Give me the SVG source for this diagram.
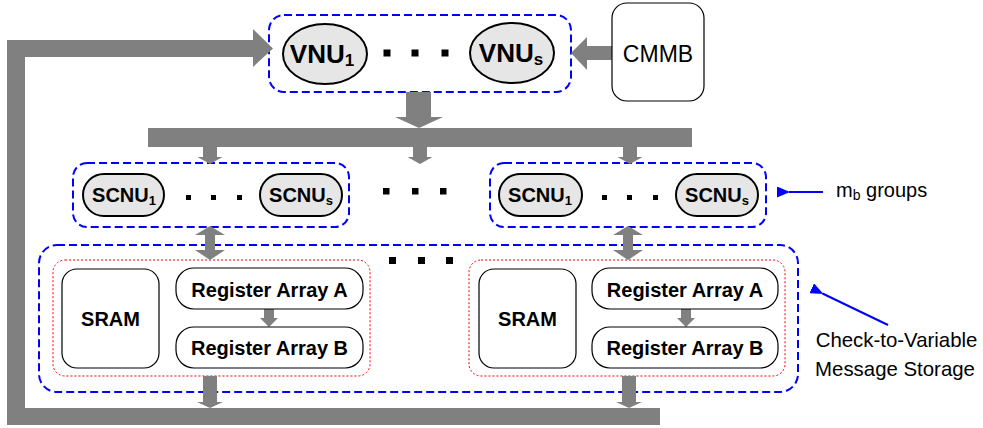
<svg xmlns="http://www.w3.org/2000/svg" width="983" height="428" viewBox="0 0 983 428">
  <defs>
    <style>
      .flow { fill: #808080; stroke: none; }
      .grp { fill: none; stroke: #0000ff; stroke-width: 2; stroke-dasharray: 8 4; }
      .tile { fill: none; stroke: #ff0000; stroke-width: 1; stroke-dasharray: 2 2; }
      .box { fill: #ffffff; stroke: #000000; stroke-width: 1.2; }
      .unit { fill: #e6e6e6; stroke: #000000; stroke-width: 2; }
      .lbl { font-family: "Liberation Sans", Arial, sans-serif; fill: #000000; text-anchor: middle; }
      .b { font-weight: bold; }
      .note { font-family: "Liberation Sans", Arial, sans-serif; fill: #000000; font-size: 20px; }
      .note2 { font-family: "Liberation Sans", Arial, sans-serif; fill: #000000; font-size: 20.4px; text-anchor: middle; }
      .ptr { stroke: #0000ff; stroke-width: 2; fill: none; marker-end: url(#blueHead); }
      .dot { fill: #000000; }
    </style>
    <marker id="blueHead" markerWidth="13" markerHeight="11" refX="1" refY="5.5" orient="auto" markerUnits="userSpaceOnUse">
      <path d="M13,0 L0,5.5 L13,11 Z" fill="#0000ff"/>
    </marker>
  </defs>

  <rect width="983" height="428" fill="#ffffff"/>

  <!-- grouping frames -->
  <g id="vnu-group">
    <rect class="grp" x="269" y="15" width="302" height="77" rx="15"/>
  </g>
  <g id="scnu-group-1">
    <rect class="grp" x="73" y="163" width="276" height="64" rx="14"/>
  </g>
  <g id="scnu-group-mb">
    <rect class="grp" x="490" y="163" width="276" height="64" rx="14"/>
  </g>
  <g id="c2v-storage">
    <rect class="grp" x="39" y="245" width="759" height="147" rx="18"/>
  </g>
  <g id="storage-tile-1">
    <rect class="tile" x="53" y="260" width="317" height="116" rx="12"/>
  </g>
  <g id="storage-tile-mb">
    <rect class="tile" x="469" y="260" width="316" height="116" rx="12"/>
  </g>

  <!-- connectors -->
  <g id="connectors">
    <!-- feedback loop from storage back to the VNUs -->
    <path class="flow" d="M7,425 L660,425 L660,408 L25,408 L25,57 L253,57 L253,67 L273,48.5 L253,29 L253,40 L7,40 Z"/>
    <!-- CMMB to VNUs -->
    <path class="flow" d="M612,46 L587,46 L587,37 L571,53 L587,70 L587,60 L612,60 Z"/>
    <!-- VNUs to distribution bus -->
    <path class="flow" d="M406,92 L431,92 L431,117 L443,117 L419,128 L395,117 L406,117 Z"/>
    <rect class="flow" x="148" y="128" width="544" height="19"/>
    <!-- bus taps -->
    <path class="flow" d="M203,147 L217,147 L217,157 L222.5,157 L210,164 L197.5,157 L203,157 Z"/>
    <path class="flow" d="M413,147 L427,147 L427,157 L432.5,157 L420,164 L407.5,157 L413,157 Z"/>
    <path class="flow" d="M623,147 L637,147 L637,157 L642.5,157 L630,164 L617.5,157 L623,157 Z"/>
    <!-- SCNU <-> storage -->
    <path class="flow" d="M210,226 L225,235 L215,235 L215,250 L225,250 L210,260 L195,250 L205,250 L205,235 L195,235 Z"/>
    <path class="flow" d="M628,226 L643,235 L633,235 L633,250 L643,250 L628,260 L613,250 L623,250 L623,235 L613,235 Z"/>
    <!-- storage to return bus -->
    <path class="flow" d="M203,376 L217,376 L217,402 L223,402 L210,408 L197,402 L203,402 Z"/>
    <path class="flow" d="M622,376 L636,376 L636,402 L642,402 L629,408 L616,402 L622,402 Z"/>
    <!-- register A to register B -->
    <path class="flow" d="M264,309 L274,309 L274,318 L278,318 L269,327 L260,318 L264,318 Z"/>
    <path class="flow" d="M681,309 L691,309 L691,318 L695,318 L686,327 L677,318 L681,318 Z"/>
    <!-- annotation pointers -->
    <line class="ptr" x1="823" y1="192" x2="789" y2="192"/>
    <line class="ptr" x1="888" y1="325" x2="822.5" y2="293.5"/>
  </g>

  <!-- variable node units -->
  <g id="vnu-1">
    <ellipse class="unit" cx="325" cy="54" rx="42" ry="30"/>
    <text class="lbl b" x="322" y="63" font-size="26">VNU<tspan font-size="17" dy="3">1</tspan></text>
  </g>
  <g id="vnu-dots">
    <rect class="dot" x="383.5" y="49.5" width="7" height="7"/>
    <rect class="dot" x="411.5" y="49.5" width="7" height="7"/>
    <rect class="dot" x="441.5" y="49.5" width="7" height="7"/>
  </g>
  <g id="vnu-s">
    <ellipse class="unit" cx="512" cy="53" rx="42" ry="30"/>
    <text class="lbl b" x="511" y="62" font-size="26">VNU<tspan font-size="17" dy="3">s</tspan></text>
  </g>

  <g id="cmmb">
    <rect class="box" x="612" y="3" width="92" height="98" rx="15"/>
    <text class="lbl" x="658" y="62" font-size="23">CMMB</text>
  </g>

  <!-- check node units -->
  <g id="scnu-1-1">
    <rect class="unit" x="83" y="174" width="81" height="42" rx="21"/>
    <text class="lbl b" x="124" y="201.5" font-size="20">SCNU<tspan font-size="13" dy="3">1</tspan></text>
  </g>
  <g id="scnu-1-dots">
    <rect class="dot" x="186" y="195" width="5" height="5"/>
    <rect class="dot" x="211" y="195" width="5" height="5"/>
    <rect class="dot" x="237" y="195" width="5" height="5"/>
  </g>
  <g id="scnu-1-s">
    <rect class="unit" x="260" y="174" width="82" height="42" rx="21"/>
    <text class="lbl b" x="301" y="201.5" font-size="20">SCNU<tspan font-size="13" dy="3">s</tspan></text>
  </g>

  <g id="group-dots">
    <rect class="dot" x="383" y="188" width="6.5" height="6.5"/>
    <rect class="dot" x="412" y="188" width="6.5" height="6.5"/>
    <rect class="dot" x="440" y="188" width="6.5" height="6.5"/>
    <rect class="dot" x="389" y="257" width="7" height="7"/>
    <rect class="dot" x="418" y="257" width="7" height="7"/>
    <rect class="dot" x="446" y="257" width="7" height="7"/>
  </g>

  <g id="scnu-mb-1">
    <rect class="unit" x="499" y="174" width="83" height="42" rx="21"/>
    <text class="lbl b" x="540" y="201.5" font-size="20">SCNU<tspan font-size="13" dy="3">1</tspan></text>
  </g>
  <g id="scnu-mb-dots">
    <rect class="dot" x="602" y="195" width="5" height="5"/>
    <rect class="dot" x="627" y="195" width="5" height="5"/>
    <rect class="dot" x="653" y="195" width="5" height="5"/>
  </g>
  <g id="scnu-mb-s">
    <rect class="unit" x="676" y="174" width="82" height="42" rx="21"/>
    <text class="lbl b" x="717" y="201.5" font-size="20">SCNU<tspan font-size="13" dy="3">s</tspan></text>
  </g>

  <!-- storage tiles -->
  <g id="sram-1">
    <rect class="box" x="62" y="269" width="97" height="99" rx="15"/>
    <text class="lbl b" x="110.5" y="326" font-size="20">SRAM</text>
  </g>
  <g id="reg-a-1">
    <rect class="box" x="176" y="268" width="187" height="41" rx="18"/>
    <text class="lbl b" x="269.5" y="297" font-size="20">Register Array A</text>
  </g>
  <g id="reg-b-1">
    <rect class="box" x="176" y="327" width="187" height="41" rx="18"/>
    <text class="lbl b" x="269.5" y="355" font-size="20">Register Array B</text>
  </g>

  <g id="sram-mb">
    <rect class="box" x="479" y="269" width="97" height="99" rx="15"/>
    <text class="lbl b" x="527.5" y="326" font-size="20">SRAM</text>
  </g>
  <g id="reg-a-mb">
    <rect class="box" x="592" y="268" width="186" height="41" rx="18"/>
    <text class="lbl b" x="685" y="297" font-size="20">Register Array A</text>
  </g>
  <g id="reg-b-mb">
    <rect class="box" x="592" y="327" width="186" height="41" rx="18"/>
    <text class="lbl b" x="685" y="355" font-size="20">Register Array B</text>
  </g>

  <!-- annotations -->
  <g id="label-groups">
    <text class="note" x="836" y="197">m<tspan font-size="14" dy="3">b</tspan><tspan dy="-3"> groups</tspan></text>
  </g>
  <g id="label-storage">
    <text class="note2" x="896.5" y="347">Check-to-Variable</text>
    <text class="note2" x="895" y="376">Message Storage</text>
  </g>
</svg>
